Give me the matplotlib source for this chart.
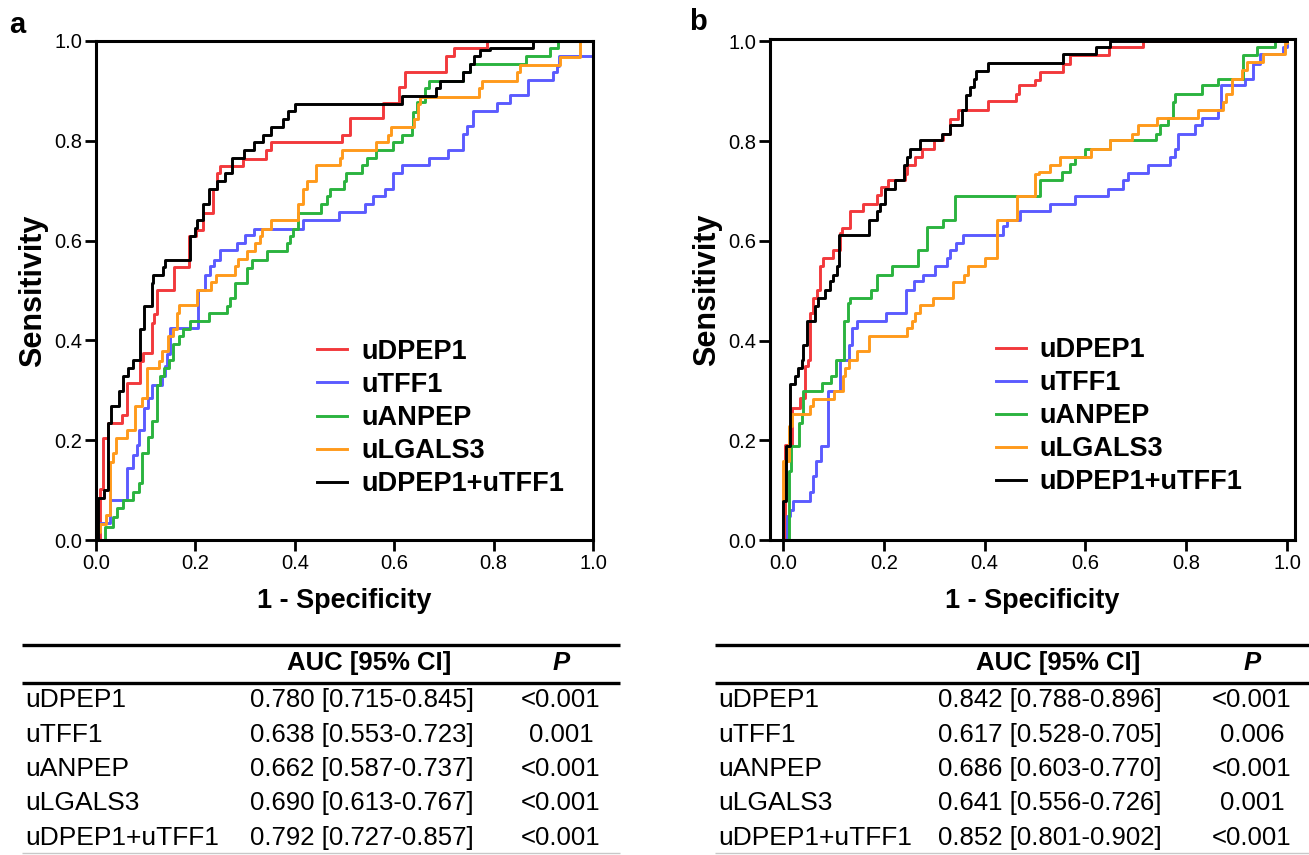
import matplotlib
matplotlib.use("Agg")
import matplotlib.pyplot as plt

plt.rcParams["font.family"] = ["Liberation Sans", "DejaVu Sans"]

# ---- ROC data (1 - specificity, sensitivity) ----
MARKERS = ["uDPEP1", "uTFF1", "uANPEP", "uLGALS3", "uDPEP1+uTFF1"]
COLORS = ["#f2393c", "#5b5bff", "#2bb33f", "#ff9a1c", "#000000"]

# panel a
A_DPEP1_X = [0, 0.008, 0.014, 0.025, 0.052, 0.062, 0.089, 0.095, 0.112, 0.117,
             0.122, 0.156, 0.188, 0.201, 0.216, 0.235, 0.243, 0.249, 0.296, 0.343,
             0.353, 0.494, 0.511, 0.577, 0.610, 0.622, 0.704, 0.720, 0.786, 1.0]
A_DPEP1_Y = [0, 0.102, 0.205, 0.234, 0.251, 0.315, 0.358, 0.375, 0.435, 0.452,
             0.502, 0.548, 0.609, 0.622, 0.656, 0.703, 0.735, 0.750, 0.763, 0.782,
             0.797, 0.811, 0.845, 0.875, 0.907, 0.938, 0.969, 0.985, 1.0, 1.0]

A_TFF1_X = [0, 0.004, 0.028, 0.063, 0.074, 0.082, 0.087, 0.097, 0.105, 0.112,
            0.132, 0.139, 0.143, 0.149, 0.206, 0.219, 0.229, 0.237, 0.250, 0.284,
            0.300, 0.317, 0.417, 0.488, 0.541, 0.558, 0.581, 0.598, 0.615, 0.671,
            0.709, 0.739, 0.746, 0.758, 0.806, 0.833, 0.870, 0.920, 0.927, 0.932, 1.0]
A_TFF1_Y = [0, 0.034, 0.080, 0.144, 0.171, 0.191, 0.221, 0.265, 0.284, 0.311,
            0.328, 0.348, 0.372, 0.425, 0.502, 0.532, 0.549, 0.562, 0.581, 0.596,
            0.611, 0.624, 0.641, 0.657, 0.673, 0.689, 0.704, 0.735, 0.751, 0.766,
            0.782, 0.813, 0.830, 0.860, 0.875, 0.892, 0.922, 0.938, 0.949, 0.969, 1.0]

A_ANPEP_X = [0, 0.018, 0.035, 0.042, 0.055, 0.074, 0.087, 0.092, 0.105, 0.112,
             0.122, 0.129, 0.137, 0.146, 0.154, 0.166, 0.176, 0.189, 0.228, 0.263,
             0.270, 0.280, 0.303, 0.313, 0.345, 0.385, 0.390, 0.397, 0.407, 0.452,
             0.464, 0.471, 0.499, 0.504, 0.535, 0.545, 0.563, 0.598, 0.615, 0.635,
             0.638, 0.645, 0.662, 0.671, 0.739, 0.753, 0.866, 0.914, 0.930, 1.0]
A_ANPEP_Y = [0, 0.027, 0.047, 0.064, 0.080, 0.097, 0.114, 0.174, 0.207, 0.238,
             0.311, 0.328, 0.345, 0.361, 0.392, 0.408, 0.422, 0.438, 0.455, 0.469,
             0.485, 0.515, 0.546, 0.562, 0.579, 0.596, 0.609, 0.624, 0.656, 0.673,
             0.689, 0.703, 0.720, 0.735, 0.751, 0.766, 0.782, 0.797, 0.811, 0.827,
             0.857, 0.877, 0.905, 0.920, 0.937, 0.954, 0.969, 0.985, 1.0, 1.0]

A_LGALS3_X = [0, 0, 0.008, 0.021, 0.028, 0.034, 0.040, 0.063, 0.078, 0.092, 0.103,
              0.127, 0.132, 0.144, 0.154, 0.162, 0.168, 0.204, 0.231, 0.241, 0.280,
              0.286, 0.303, 0.320, 0.330, 0.335, 0.353, 0.407, 0.417, 0.424, 0.443,
              0.490, 0.494, 0.563, 0.588, 0.593, 0.639, 0.647, 0.652, 0.771, 0.776,
              0.848, 0.853, 0.934, 0.973, 1.0]
A_LGALS3_Y = [0, 0.017, 0.033, 0.050, 0.157, 0.174, 0.204, 0.221, 0.268, 0.284, 0.345,
              0.358, 0.378, 0.408, 0.422, 0.455, 0.470, 0.502, 0.517, 0.532, 0.549,
              0.564, 0.579, 0.596, 0.609, 0.624, 0.641, 0.673, 0.703, 0.720, 0.751,
              0.766, 0.782, 0.797, 0.811, 0.827, 0.843, 0.873, 0.887, 0.905, 0.920,
              0.937, 0.952, 0.967, 1.0, 1.0]

A_COMB_X = [0, 0.004, 0.016, 0.025, 0.030, 0.047, 0.055, 0.065, 0.074, 0.089,
            0.097, 0.112, 0.115, 0.134, 0.139, 0.190, 0.199, 0.204, 0.216, 0.227,
            0.243, 0.260, 0.273, 0.298, 0.318, 0.337, 0.353, 0.377, 0.387, 0.400,
            0.615, 0.684, 0.692, 0.738, 0.753, 0.761, 0.773, 0.792, 0.879, 1.0]
A_COMB_Y = [0, 0.084, 0.100, 0.234, 0.268, 0.298, 0.328, 0.345, 0.361, 0.422,
            0.469, 0.515, 0.532, 0.548, 0.562, 0.609, 0.626, 0.641, 0.673, 0.703,
            0.720, 0.735, 0.766, 0.782, 0.797, 0.811, 0.827, 0.843, 0.860, 0.873,
            0.890, 0.905, 0.920, 0.937, 0.954, 0.969, 0.981, 0.985, 1.0, 1.0]

# panel b
B_DPEP1_X = [0, 0.004, 0.017, 0.034, 0.044, 0.050, 0.054, 0.059, 0.067, 0.073,
             0.080, 0.100, 0.113, 0.116, 0.133, 0.158, 0.187, 0.194, 0.209, 0.242,
             0.245, 0.262, 0.275, 0.300, 0.318, 0.331, 0.348, 0.407, 0.462, 0.469,
             0.500, 0.510, 0.556, 0.569, 0.647, 0.715, 1.0]
B_DPEP1_Y = [0, 0.19, 0.265, 0.285, 0.349, 0.362, 0.455, 0.485, 0.502, 0.549,
             0.565, 0.582, 0.615, 0.625, 0.659, 0.675, 0.692, 0.709, 0.723, 0.735,
             0.752, 0.769, 0.785, 0.802, 0.815, 0.845, 0.862, 0.880, 0.895, 0.912,
             0.922, 0.939, 0.955, 0.972, 0.989, 1.0, 1.0]

B_TFF1_X = [0, 0.007, 0.013, 0.020, 0.053, 0.060, 0.066, 0.076, 0.089, 0.113,
            0.130, 0.136, 0.146, 0.204, 0.244, 0.259, 0.278, 0.302, 0.325, 0.331,
            0.343, 0.358, 0.437, 0.444, 0.471, 0.530, 0.579, 0.645, 0.675, 0.685,
            0.725, 0.768, 0.778, 0.784, 0.817, 0.831, 0.864, 0.870, 0.917, 0.933,
            0.946, 0.993, 1.0]
B_TFF1_Y = [0, 0.049, 0.061, 0.079, 0.096, 0.129, 0.159, 0.189, 0.299, 0.362,
            0.392, 0.425, 0.439, 0.455, 0.502, 0.519, 0.532, 0.549, 0.565, 0.582,
            0.595, 0.612, 0.629, 0.642, 0.659, 0.675, 0.691, 0.705, 0.722, 0.737,
            0.752, 0.769, 0.785, 0.815, 0.832, 0.847, 0.862, 0.912, 0.925, 0.955,
            0.974, 0.989, 1.0]

B_ANPEP_X = [0, 0.011, 0.015, 0.032, 0.037, 0.040, 0.077, 0.095, 0.105, 0.121,
             0.128, 0.133, 0.174, 0.186, 0.216, 0.267, 0.285, 0.318, 0.341, 0.509,
             0.553, 0.569, 0.579, 0.599, 0.649, 0.741, 0.748, 0.764, 0.773, 0.778,
             0.831, 0.864, 0.913, 0.940, 0.976, 1.0]
B_ANPEP_Y = [0, 0.139, 0.189, 0.235, 0.252, 0.299, 0.315, 0.329, 0.362, 0.439,
             0.475, 0.485, 0.502, 0.532, 0.549, 0.582, 0.627, 0.642, 0.690, 0.722,
             0.739, 0.755, 0.769, 0.785, 0.802, 0.815, 0.832, 0.847, 0.879, 0.895,
             0.912, 0.925, 0.972, 0.989, 1.0, 1.0]

B_LGALS3_X = [0, 0, 0.012, 0.018, 0.054, 0.060, 0.101, 0.118, 0.123, 0.130,
              0.147, 0.171, 0.245, 0.255, 0.262, 0.272, 0.298, 0.337, 0.359, 0.366,
              0.401, 0.425, 0.464, 0.500, 0.507, 0.530, 0.550, 0.612, 0.649, 0.692,
              0.705, 0.742, 0.824, 0.874, 0.880, 0.890, 0.910, 0.920, 0.953, 0.996, 1.0]
B_LGALS3_Y = [0, 0.159, 0.229, 0.252, 0.269, 0.282, 0.299, 0.329, 0.345, 0.362,
              0.379, 0.409, 0.425, 0.439, 0.455, 0.472, 0.485, 0.517, 0.532, 0.549,
              0.565, 0.642, 0.690, 0.735, 0.739, 0.752, 0.769, 0.785, 0.802, 0.815,
              0.832, 0.847, 0.863, 0.879, 0.895, 0.925, 0.942, 0.959, 0.974, 0.997, 1.0]

B_COMB_X = [0, 0, 0.006, 0.013, 0.024, 0.030, 0.037, 0.040, 0.047, 0.063,
            0.070, 0.083, 0.093, 0.100, 0.106, 0.110, 0.171, 0.186, 0.192, 0.202,
            0.222, 0.239, 0.245, 0.251, 0.272, 0.315, 0.331, 0.356, 0.364, 0.370,
            0.378, 0.383, 0.407, 0.556, 0.622, 0.649, 1.0]
B_COMB_Y = [0, 0.079, 0.189, 0.312, 0.329, 0.345, 0.362, 0.392, 0.439, 0.469,
            0.485, 0.502, 0.519, 0.532, 0.549, 0.612, 0.642, 0.659, 0.675, 0.705,
            0.722, 0.752, 0.769, 0.785, 0.802, 0.815, 0.832, 0.862, 0.892, 0.909,
            0.925, 0.941, 0.957, 0.974, 0.989, 1.0, 1.0]

# ---- AUC tables ----
AUC_A = ["0.780 [0.715-0.845]", "0.638 [0.553-0.723]", "0.662 [0.587-0.737]",
         "0.690 [0.613-0.767]", "0.792 [0.727-0.857]"]
P_A = ["<0.001", "0.001", "<0.001", "<0.001", "<0.001"]
AUC_B = ["0.842 [0.788-0.896]", "0.617 [0.528-0.705]", "0.686 [0.603-0.770]",
         "0.641 [0.556-0.726]", "0.852 [0.801-0.902]"]
P_B = ["<0.001", "0.006", "<0.001", "0.001", "<0.001"]

W, H = 1309, 855
fig = plt.figure(figsize=(W / 100, H / 100), dpi=100)


def px_axes(left, top, right, bottom):
    return fig.add_axes([left / W, 1 - bottom / H, (right - left) / W, (bottom - top) / H])


def roc_panel(ax, curves, xlim, ylim, leg_anchor):
    for (xs, ys), name, col in zip(curves, MARKERS, COLORS):
        ax.step(xs, ys, where="post", color=col, lw=2.1, label=name)
    ax.set_xlim(*xlim)
    ax.set_ylim(*ylim)
    ticks = [0.0, 0.2, 0.4, 0.6, 0.8, 1.0]
    ax.set_xticks(ticks)
    ax.set_yticks(ticks)
    ax.set_xticklabels([f"{t:.1f}" for t in ticks])
    ax.set_yticklabels([f"{t:.1f}" for t in ticks])
    ax.tick_params(direction="out", length=8, width=2, labelsize=14.5, pad=2)
    for sp in ax.spines.values():
        sp.set_linewidth(2.2)
    ax.set_xlabel("1 - Specificity", fontsize=19.5, fontweight="bold", labelpad=11)
    ax.set_ylabel("Sensitivity", fontsize=22, fontweight="bold", labelpad=4)
    ax.legend(loc="upper left", bbox_to_anchor=leg_anchor, frameon=False,
              prop={"size": 19.5, "weight": "bold"}, handlelength=1.1,
              handletextpad=0.52, labelspacing=0.26, borderpad=0, borderaxespad=0)


ax_a = px_axes(96, 41, 593, 540)
roc_panel(ax_a, [(A_DPEP1_X, A_DPEP1_Y), (A_TFF1_X, A_TFF1_Y), (A_ANPEP_X, A_ANPEP_Y),
                 (A_LGALS3_X, A_LGALS3_Y), (A_COMB_X, A_COMB_Y)],
          (0, 1.0), (0, 1.0), (0.445, 0.403))

ax_b = px_axes(770, 39, 1295, 540)
roc_panel(ax_b, [(B_DPEP1_X, B_DPEP1_Y), (B_TFF1_X, B_TFF1_Y), (B_ANPEP_X, B_ANPEP_Y),
                 (B_LGALS3_X, B_LGALS3_Y), (B_COMB_X, B_COMB_Y)],
          (-0.026, 1.016), (0, 1.005), (0.430, 0.405))

fig.text(17 / W, 1 - 25 / H, "a", fontsize=21, fontweight="bold", ha="center", va="center")
fig.text(698 / W, 1 - 22 / H, "b", fontsize=21, fontweight="bold", ha="center", va="center")

# tables drawn in a pixel-space overlay
ov = fig.add_axes([0, 0, 1, 1])
ov.set_xlim(0, W)
ov.set_ylim(H, 0)
ov.axis("off")

ROW_Y = [700, 735, 769, 803, 838]


def table(x0, x1, x_auc, x_head, x_p, aucs, ps):
    ov.plot([x0, x1], [645, 645], color="black", lw=2.4, solid_capstyle="butt")
    ov.plot([x0, x1], [683, 683], color="black", lw=2.4, solid_capstyle="butt")
    ov.plot([x0, x1], [853, 853], color="#c8c8c8", lw=1, solid_capstyle="butt")
    ov.text(x_head, 663, "AUC [95% CI]", fontsize=18.5, fontweight="bold",
            ha="center", va="center")
    ov.text(x_p, 663, "P", fontsize=18.5, fontweight="bold", fontstyle="italic",
            ha="center", va="center")
    for y, name, auc, p in zip(ROW_Y, MARKERS, aucs, ps):
        ov.text(x0 + 3, y, name, fontsize=19, ha="left", va="center")
        ov.text(x_auc, y, auc, fontsize=18.5, ha="center", va="center")
        ov.text(x_p, y, p, fontsize=18.5, ha="center", va="center")


table(22, 620, 362, 369, 561, AUC_A, P_A)
table(715, 1309, 1050, 1058, 1252, AUC_B, P_B)

fig.savefig("out.png", dpi=100)
